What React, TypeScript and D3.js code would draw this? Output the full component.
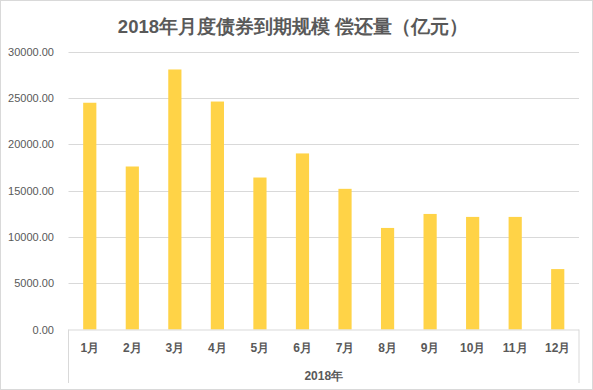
import React from "react";
import * as d3 from "d3";

const months = ["1月", "2月", "3月", "4月", "5月", "6月", "7月", "8月", "9月", "10月", "11月", "12月"];
const values = [24470, 17590, 28060, 24600, 16400, 19000, 15180, 10960, 12470, 12150, 12150, 6520];
const yTicks = [0, 5000, 10000, 15000, 20000, 25000, 30000];
const title = "2018年月度债券到期规模 偿还量（亿元）";
const xTitle = "2018年";

export default function App() {
  const W = 593, H = 390;
  const left = 68.5, right = 579, top = 51.5, bottom = 329.5;
  const x = d3.scaleBand<string>().domain(months).range([left, right]).paddingInner(0.69).paddingOuter(0.345);
  const y = d3.scaleLinear().domain([0, 30000]).range([bottom, top]);
  const font = "'Liberation Sans', Arial, sans-serif";
  const grey = "#595959";
  return (
    <svg width={W} height={H} style={{ position: "absolute", left: 0, top: 0, background: "#fff" }}>
      <rect x={0.5} y={0.5} width={W - 1} height={H - 1} fill="#fff" stroke="#d9d9d9" />
      <text x={293} y={33} textAnchor="middle" fontFamily={font} fontWeight="bold" fontSize={18.5} fill={grey}>
        {title}
      </text>
      {yTicks.map((t) => (
        <g key={t}>
          {t > 0 && <line x1={left} x2={right} y1={Math.round(y(t)) + 0.5} y2={Math.round(y(t)) + 0.5} stroke="#d9d9d9" />}
          <text x={54} y={y(t) + 4} textAnchor="end" fontFamily={font} fontSize={11} fill={grey}>
            {t.toFixed(2)}
          </text>
        </g>
      ))}
      {months.map((m, i) => (
        <rect key={m} x={x(m)} y={y(values[i])} width={x.bandwidth()} height={bottom - y(values[i])} fill="#FFD347" />
      ))}
      <line x1={left} x2={right} y1={bottom + 0.5} y2={bottom + 0.5} stroke="#d9d9d9" />
      <line x1={left} x2={left} y1={bottom} y2={383} stroke="#d9d9d9" />
      <line x1={right} x2={right} y1={bottom} y2={383} stroke="#d9d9d9" />
      {months.map((m) => (
        <text key={m} x={x(m)! + x.bandwidth() / 2} y={352} textAnchor="middle" fontFamily={font} fontWeight="bold" fontSize={12} fill={grey}>
          {m}
        </text>
      ))}
      <text x={(left + right) / 2} y={380} textAnchor="middle" fontFamily={font} fontWeight="bold" fontSize={12} fill={grey}>
        {xTitle}
      </text>
    </svg>
  );
}
